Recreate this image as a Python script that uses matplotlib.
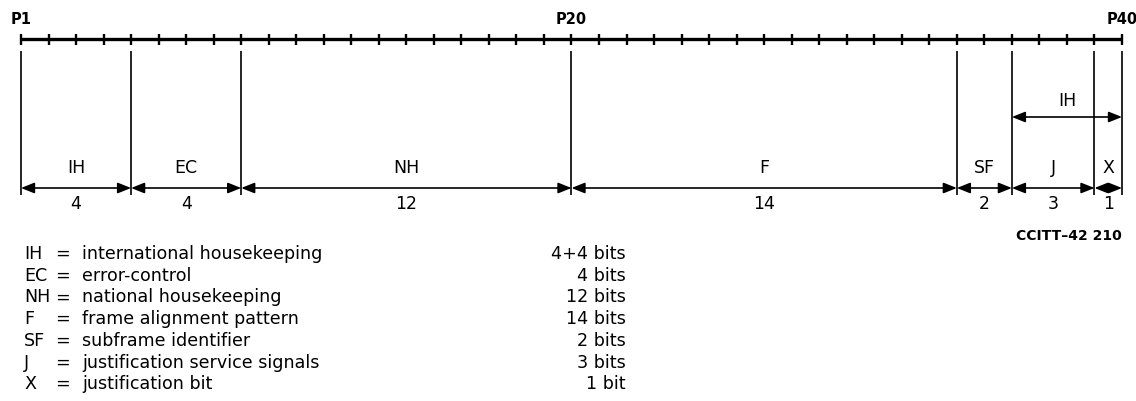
import numpy as np
import matplotlib
matplotlib.use("Agg")
import matplotlib.pyplot as plt

plt.rcParams['font.family'] = ['DejaVu Sans']

# frame fields, left to right
fields = ["IH", "EC", "NH", "F", "SF", "J", "X"]
bits = [4, 4, 12, 14, 2, 3, 1]
positions = ["P1", "P20", "P40"]
position_at = [0, 20, 40]

# key below the diagram
key_abbr = ["IH", "EC", "NH", "F", "SF", "J", "X"]
key_text = ["international housekeeping", "error-control", "national housekeeping",
            "frame alignment pattern", "subframe identifier",
            "justification service signals", "justification bit"]
key_bits = ["4+4 bits", "4 bits", "12 bits", "14 bits", "2 bits", "3 bits", "1 bit"]

W, H = 1136, 401
x0_px, x1_px = 21, 1122
total = sum(bits)
s = (x1_px - x0_px) / total  # pixels per bit


def px2x(px):
    return (px - x0_px) / s


fig = plt.figure(figsize=(W / 100, H / 100), dpi=100)
ax = fig.add_axes([0, 0, 1, 1])
ax.set_xlim(px2x(0), px2x(W))
ax.set_ylim(H, 0)
ax.axis("off")

# ruler with one tick per bit
ax.hlines(39, 0, total, color="black", lw=2.4)
ax.vlines(np.arange(total + 1), 34, 45, color="black", lw=1.7)
for lab, p in zip(positions, position_at):
    ax.text(p, 20, lab, ha="center", va="center", fontsize=10.5, fontweight="bold")

# field boundaries
edges = np.concatenate([[0], np.cumsum(bits)])
ax.vlines(edges, 51, 195, color="black", lw=1.2)

arrow_kw = dict(arrowstyle="<|-|>,head_length=0.8,head_width=0.32",
                color="black", lw=1.2, shrinkA=0, shrinkB=0, mutation_scale=10)
for name, n, a, b in zip(fields, bits, edges[:-1], edges[1:]):
    ax.annotate("", xy=(a, 188), xytext=(b, 188), arrowprops=arrow_kw)
    ax.text((a + b) / 2, 168, name, ha="center", va="center", fontsize=12.5)
    ax.text((a + b) / 2, 204, str(n), ha="center", va="center", fontsize=12.5)

# IH spanning J and X
ax.annotate("", xy=(edges[-3], 117), xytext=(edges[-1], 117), arrowprops=arrow_kw)
ax.text((edges[-3] + edges[-1]) / 2, 101, "IH", ha="center", va="center", fontsize=12.5)

ax.text(total, 236, "CCITT\u201342 210", ha="right", va="center",
        fontsize=10, fontweight="bold")

# key
for i, (ab, tx, nb) in enumerate(zip(key_abbr, key_text, key_bits)):
    y = 254 + i * 21.7
    ax.text(px2x(24), y, ab, ha="left", va="center", fontsize=12.6)
    ax.text(px2x(63), y, "=", ha="center", va="center", fontsize=12.6)
    ax.text(px2x(82), y, tx, ha="left", va="center", fontsize=12.6)
    ax.text(px2x(626), y, nb, ha="right", va="center", fontsize=12.6)

fig.savefig("out.png", dpi=100)
